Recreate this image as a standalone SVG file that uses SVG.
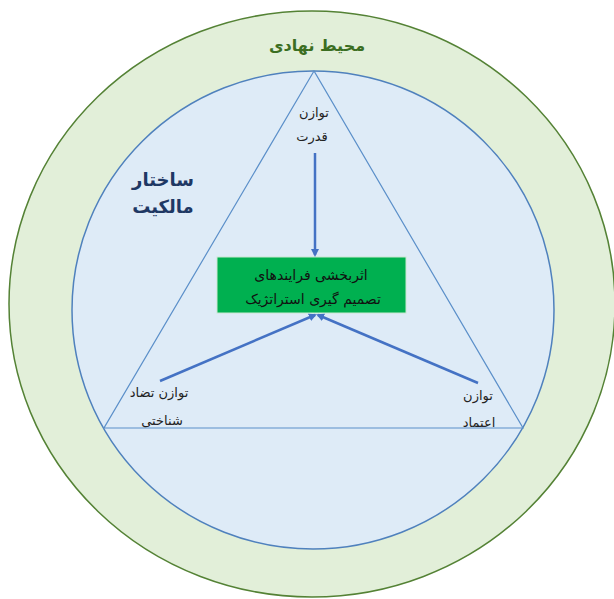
<svg xmlns="http://www.w3.org/2000/svg" width="614" height="599" viewBox="0 0 614 599">
<defs>
<style>
.t{font-family:"DejaVu Sans","Noto Sans",sans-serif;text-anchor:middle;direction:rtl}
.lbl{font-size:13px;fill:#222}
.conn{stroke:#4472c4;stroke-width:2.5;fill:none}
</style>
<marker id="ah" markerWidth="8" markerHeight="8" refX="6" refY="4" orient="auto" markerUnits="userSpaceOnUse">
<path d="M0,0 L8,4 L0,8 z" fill="#4472c4"/>
</marker>
</defs>
<rect width="614" height="599" fill="#ffffff"/>
<g id="outer">
<ellipse cx="312" cy="304" rx="303" ry="293" fill="#e2efd9" stroke="#548235" stroke-width="1.5"/>
<text class="t" x="317" y="51" font-size="16" font-weight="bold" fill="#3b6e22">محیط نهادی</text>
</g>
<g id="inner">
<ellipse cx="313" cy="310" rx="241" ry="239" fill="#deebf7" stroke="#4f81bd" stroke-width="1.5"/>
<text class="t" x="163" y="186" font-size="18" font-weight="bold" fill="#1f3864">ساختار</text>
<text class="t" x="163" y="213" font-size="18" font-weight="bold" fill="#1f3864">مالکیت</text>
</g>
<g id="triangle">
<polygon points="314,71 104,428 523,428" fill="none" stroke="#5b8fc9" stroke-width="1.2"/>
</g>
<g id="n-power">
<text class="t lbl" x="314" y="117">توازن</text>
<text class="t lbl" x="312" y="141">قدرت</text>
</g>
<g id="n-conflict">
<text class="t lbl" x="159" y="397">توازن تضاد</text>
<text class="t lbl" x="162" y="425">شناختی</text>
</g>
<g id="n-trust">
<text class="t lbl" x="478" y="400">توازن</text>
<text class="t lbl" x="479" y="427">اعتماد</text>
</g>
<g id="n-center">
<rect x="217" y="257" width="189" height="56" fill="#00b050" stroke="#c9e8d2" stroke-width="1"/>
<text class="t" x="311" y="280" font-size="14" fill="#111">اثربخشی فرایندهای</text>
<text class="t" x="313" y="304" font-size="14" fill="#111">تصمیم گیری استراتژیک</text>
</g>
<g id="connectors">
<line class="conn" x1="315" y1="153" x2="315" y2="255" marker-end="url(#ah)"/>
<line class="conn" x1="160" y1="381" x2="315" y2="315" marker-end="url(#ah)"/>
<line class="conn" x1="478" y1="383" x2="318" y2="315" marker-end="url(#ah)"/>
</g>
</svg>
